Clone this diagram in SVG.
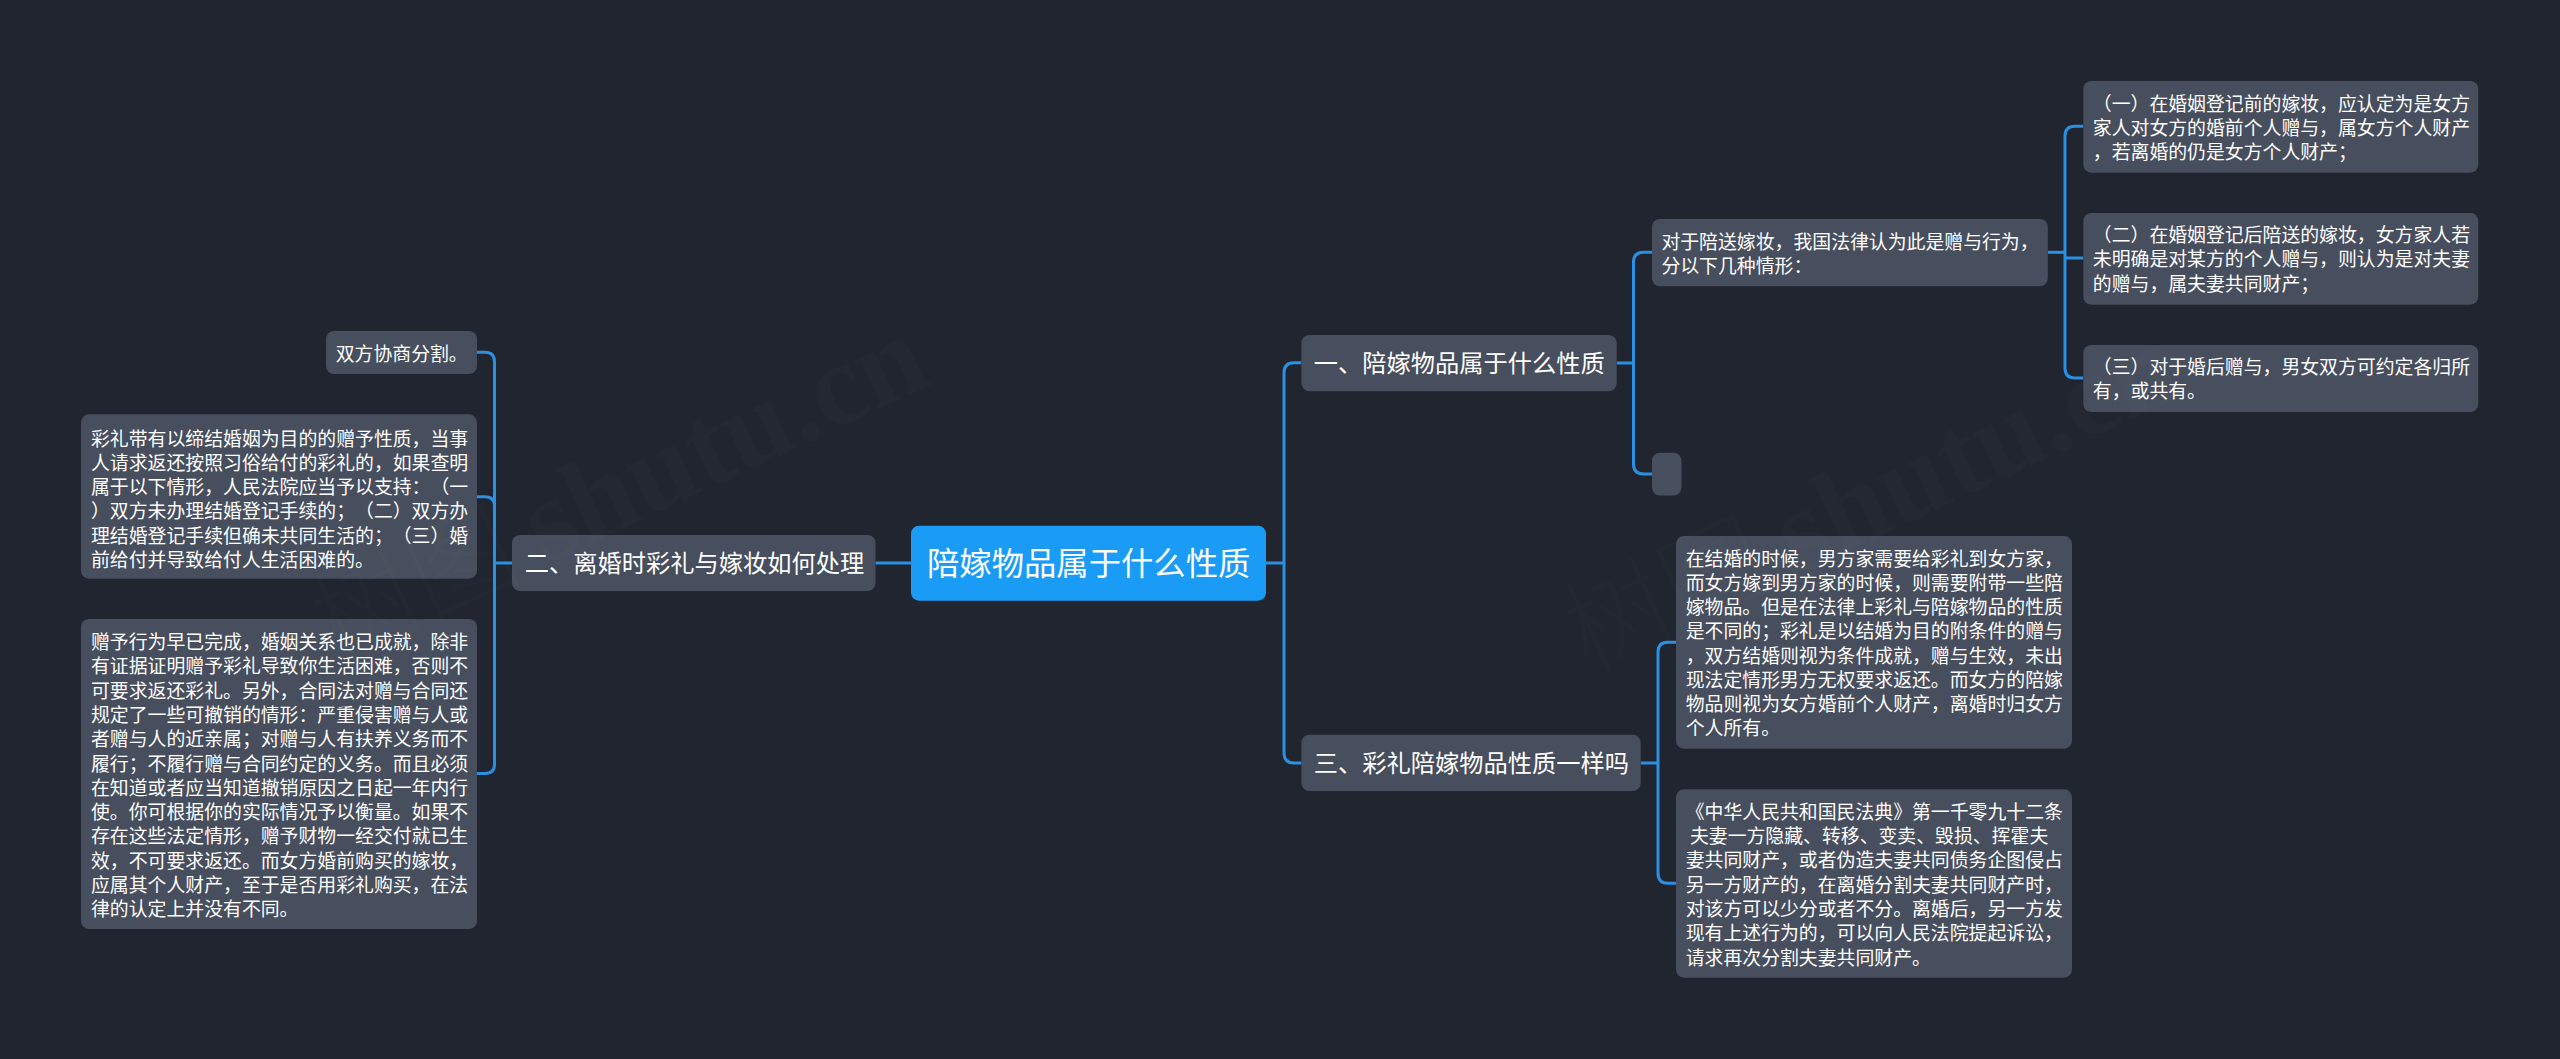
<svg xmlns="http://www.w3.org/2000/svg" width="2560" height="1059" viewBox="0 0 2560 1059">
<style>
text{font-family:"Noto Sans CJK SC","Noto Sans",sans-serif;fill:#fff;white-space:pre;text-spacing-trim:space-all}
.n{fill:#474e5d}
.r{fill:#1a9bf5}
.t{font-size:18.86px}
.b{font-size:24.25px}
.m{font-size:32.33px}
.c{fill:none;stroke:#2a90e2;stroke-width:3;stroke-linecap:butt}
.w{font-family:"Liberation Serif",serif;font-size:118px;font-weight:700;fill:#fff;fill-opacity:.014}
.wc{font-family:"Noto Sans CJK SC",sans-serif;font-size:105px;font-weight:300;fill:#fff;fill-opacity:.012}
</style>
<rect width="2560" height="1059" fill="#212530"/>
<g id="connectors">
<path class="c" d="M477 352.3H485Q494.5 352.3 494.5 362V764Q494.5 773.5 485 773.5H477"/>
<path class="c" d="M477 496.7H485Q494.5 496.7 494.5 506V563"/>
<path class="c" d="M512 563H494.5"/>
<path class="c" d="M911 563H875.5"/>
<path class="c" d="M1266 563H1284"/>
<path class="c" d="M1301.4 362.7H1294Q1284 362.7 1284 372.7V753Q1284 763 1294 763H1301.4"/>
<path class="c" d="M1616.7 363H1633.5"/>
<path class="c" d="M1652 252.3H1644Q1633.5 252.3 1633.5 262V464Q1633.5 474 1644 474H1652"/>
<path class="c" d="M2048 252.3H2065"/>
<path class="c" d="M2083.3 126.3H2075Q2065 126.3 2065 136V368Q2065 378 2075 378H2083.3"/>
<path class="c" d="M2065 258H2083.3"/>
<path class="c" d="M1640.7 763H1658"/>
<path class="c" d="M1676 642.3H1668Q1658 642.3 1658 652V873Q1658 883.3 1668 883.3H1676"/>
</g>
<g id="root"><rect class="r" x="911" y="525.7" width="355" height="75" rx="8"/><text class="m" x="927" y="575">陪嫁物品属于什么性质</text></g>
<g id="branch-1"><rect class="n" x="1301.4" y="335" width="315.3" height="56.3" rx="8"/><text class="b" x="1313.7" y="372.2">一、陪嫁物品属于什么性质</text></g>
<g id="branch-2"><rect class="n" x="512" y="535" width="363.5" height="56" rx="8"/><text class="b" x="524.7" y="572.2">二、离婚时彩礼与嫁妆如何处理</text></g>
<g id="branch-3"><rect class="n" x="1301.4" y="734.7" width="339.3" height="56.3" rx="8"/><text class="b" x="1313.7" y="772.2">三、彩礼陪嫁物品性质一样吗</text></g>
<g id="node-1-1"><rect class="n" x="1652" y="219" width="395.8" height="67.3" rx="8"/><text class="t" y="248.9"><tspan x="1661.4">对于陪送嫁妆，我国法律认为此是赠与行为，</tspan><tspan x="1661.4" dy="24.27">分以下几种情形：</tspan></text></g>
<g id="node-1-2"><rect class="n" x="1652" y="452.7" width="29.5" height="42.8" rx="8"/></g>
<g id="node-1-1-1"><rect class="n" x="2083.3" y="81" width="395" height="91.7" rx="8"/><text class="t" y="110.5"><tspan x="2092.8">（一）在婚姻登记前的嫁妆，应认定为是女方</tspan><tspan x="2092.8" dy="24.27">家人对女方的婚前个人赠与，属女方个人财产</tspan><tspan x="2092.8" dy="24.27">，若离婚的仍是女方个人财产；</tspan></text></g>
<g id="node-1-1-2"><rect class="n" x="2083.3" y="213" width="395" height="91.7" rx="8"/><text class="t" y="242.2"><tspan x="2092.8">（二）在婚姻登记后陪送的嫁妆，女方家人若</tspan><tspan x="2092.8" dy="24.27">未明确是对某方的个人赠与，则认为是对夫妻</tspan><tspan x="2092.8" dy="24.27">的赠与，属夫妻共同财产；</tspan></text></g>
<g id="node-1-1-3"><rect class="n" x="2083.3" y="345" width="395" height="67" rx="8"/><text class="t" y="373.9"><tspan x="2092.8">（三）对于婚后赠与，男女双方可约定各归所</tspan><tspan x="2092.8" dy="24.27">有，或共有。</tspan></text></g>
<g id="node-2-1"><rect class="n" x="326" y="331" width="151" height="43" rx="8"/><text class="t" x="335.7" y="361.2">双方协商分割。</text></g>
<g id="node-2-2"><rect class="n" x="81" y="414.3" width="396" height="164.4" rx="8"/><text class="t" y="445.5"><tspan x="91">彩礼带有以缔结婚姻为目的的赠予性质，当事</tspan><tspan x="91" dy="24.27">人请求返还按照习俗给付的彩礼的，如果查明</tspan><tspan x="91" dy="24.27">属于以下情形，人民法院应当予以支持：（一</tspan><tspan x="91" dy="24.27">）双方未办理结婚登记手续的；（二）双方办</tspan><tspan x="91" dy="24.27">理结婚登记手续但确未共同生活的；（三）婚</tspan><tspan x="91" dy="24.27">前给付并导致给付人生活困难的。</tspan></text></g>
<g id="node-2-3"><rect class="n" x="81" y="619" width="396" height="310" rx="8"/><text class="t" y="649.2"><tspan x="91">赠予行为早已完成，婚姻关系也已成就，除非</tspan><tspan x="91" dy="24.27">有证据证明赠予彩礼导致你生活困难，否则不</tspan><tspan x="91" dy="24.27">可要求返还彩礼。另外，合同法对赠与合同还</tspan><tspan x="91" dy="24.27">规定了一些可撤销的情形：严重侵害赠与人或</tspan><tspan x="91" dy="24.27">者赠与人的近亲属；对赠与人有扶养义务而不</tspan><tspan x="91" dy="24.27">履行；不履行赠与合同约定的义务。而且必须</tspan><tspan x="91" dy="24.27">在知道或者应当知道撤销原因之日起一年内行</tspan><tspan x="91" dy="24.27">使。你可根据你的实际情况予以衡量。如果不</tspan><tspan x="91" dy="24.27">存在这些法定情形，赠予财物一经交付就已生</tspan><tspan x="91" dy="24.27">效，不可要求返还。而女方婚前购买的嫁妆，</tspan><tspan x="91" dy="24.27">应属其个人财产，至于是否用彩礼购买，在法</tspan><tspan x="91" dy="24.27">律的认定上并没有不同。</tspan></text></g>
<g id="node-3-1"><rect class="n" x="1676" y="536" width="396" height="212.7" rx="8"/><text class="t" y="565.5"><tspan x="1685.7">在结婚的时候，男方家需要给彩礼到女方家，</tspan><tspan x="1685.7" dy="24.27">而女方嫁到男方家的时候，则需要附带一些陪</tspan><tspan x="1685.7" dy="24.27">嫁物品。但是在法律上彩礼与陪嫁物品的性质</tspan><tspan x="1685.7" dy="24.27">是不同的；彩礼是以结婚为目的附条件的赠与</tspan><tspan x="1685.7" dy="24.27">，双方结婚则视为条件成就，赠与生效，未出</tspan><tspan x="1685.7" dy="24.27">现法定情形男方无权要求返还。而女方的陪嫁</tspan><tspan x="1685.7" dy="24.27">物品则视为女方婚前个人财产，离婚时归女方</tspan><tspan x="1685.7" dy="24.27">个人所有。</tspan></text></g>
<g id="node-3-2"><rect class="n" x="1676" y="789.3" width="396" height="188.4" rx="8"/><text class="t" y="818.9"><tspan x="1685.7">《中华人民共和国民法典》第一千零九十二条</tspan><tspan x="1685.7" dy="24.27"> 夫妻一方隐藏、转移、变卖、毁损、挥霍夫</tspan><tspan x="1685.7" dy="24.27">妻共同财产，或者伪造夫妻共同债务企图侵占</tspan><tspan x="1685.7" dy="24.27">另一方财产的，在离婚分割夫妻共同财产时，</tspan><tspan x="1685.7" dy="24.27">对该方可以少分或者不分。离婚后，另一方发</tspan><tspan x="1685.7" dy="24.27">现有上述行为的，可以向人民法院提起诉讼，</tspan><tspan x="1685.7" dy="24.27">请求再次分割夫妻共同财产。</tspan></text></g>
<g id="watermark">
<text class="w" transform="translate(545 565) rotate(-25)">shutu.cn</text>
<text class="w" transform="translate(1797 575) rotate(-25)">shutu.cn</text>
<text class="wc" transform="translate(525 574) rotate(-25)" text-anchor="end">树图</text>
<text class="wc" transform="translate(1777 584) rotate(-25)" text-anchor="end">树图</text>
</g>
</svg>
